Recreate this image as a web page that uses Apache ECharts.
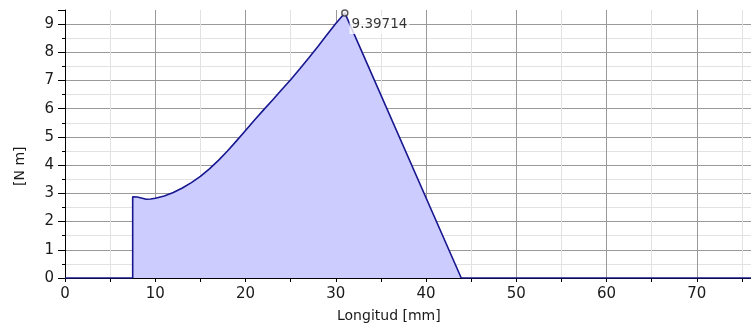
<!DOCTYPE html>
<html>
<head>
<meta charset="utf-8">
<script src="https://cdn.jsdelivr.net/npm/echarts@6/dist/echarts.min.js"></script>
<style>html,body{margin:0;padding:0;background:#fff;}#c{width:751px;height:330px;}</style>
</head>
<body>
<div id="c"></div>
<script>
// Data
var xValues = [0, 7.5, 7.5, 8.0, 8.2, 9.0, 9.5, 10, 11, 12, 13, 14, 15, 16, 17, 18, 19, 20, 21, 22, 23, 24, 25, 26, 27, 28, 29, 30, 31, 43.9, 76];
var yValues = [0, 0, 2.88, 2.87, 2.8, 2.79, 2.8, 2.83, 2.91, 3.03, 3.19, 3.38, 3.6, 3.87, 4.17, 4.5, 4.86, 5.23, 5.6, 5.96, 6.31, 6.67, 7.03, 7.41, 7.8, 8.2, 8.61, 9.02, 9.39714, 0, 0];
var peakX = 31;
var peakY = 9.39714;
var xAxisTitle = 'Longitud [mm]';
var yAxisTitle = '[N m]';

var lineData = xValues.map(function (x, i) { return [x, yValues[i]]; });

var chart = echarts.init(document.getElementById('c'), null, {renderer: 'canvas'});
var FONT = 'DejaVu Sans';
var MAJOR = '#999999', MINOR = '#e2e2e2';
chart.setOption({
  animation: false,
  backgroundColor: '#fff',
  grid: {left: 65, right: 0, top: 10, bottom: 52, containLabel: false},
  xAxis: {
    type: 'value', min: 0, max: 76, interval: 5,
    axisLine: {show: true, lineStyle: {color: '#000', width: 1}},
    axisTick: {show: true, length: 4, lineStyle: {color: '#000'}},
    axisLabel: {
      color: '#1a1a1a', fontFamily: FONT, fontSize: 15, margin: 9, showMaxLabel: false,
      formatter: function (v) { return v % 10 === 0 ? String(v) : ''; }
    },
    splitLine: {show: true, showMaxLine: false, lineStyle: {color: [MAJOR, MINOR], width: 1}}
  },
  yAxis: [{
    type: 'value', min: 0, max: 9.5, interval: 0.5,
    axisLine: {show: true, lineStyle: {color: '#000', width: 1}},
    axisTick: {show: true, length: 3, lineStyle: {color: '#000'}},
    axisLabel: {
      color: '#1a1a1a', fontFamily: FONT, fontSize: 15, margin: 11,
      formatter: function (v) { return Math.abs(v - Math.round(v)) < 1e-9 ? String(Math.round(v)) : ''; }
    },
    splitLine: {show: true, showMaxLine: false, lineStyle: {color: [MAJOR, MINOR], width: 1}}
  }, {
    type: 'value', min: 0, max: 9.5, interval: 1, position: 'left',
    axisLine: {show: false},
    axisTick: {show: true, length: 7, lineStyle: {color: '#000'}},
    axisLabel: {show: false},
    splitLine: {show: false}
  }],
  series: [{
    type: 'line',
    data: lineData,
    symbol: 'none',
    lineStyle: {color: '#17178f', width: 1.6},
    areaStyle: {color: '#ccccff', opacity: 1},
    z: 2
  }, {
    type: 'scatter',
    data: [[peakX, peakY]],
    symbol: 'circle',
    symbolSize: 6,
    itemStyle: {color: '#fff', borderColor: '#333', borderWidth: 1.5},
    label: {
      show: true, position: 'right', offset: [-4, 12],
      formatter: function (p) { return String(p.value[1]); },
      color: '#000', fontFamily: FONT, fontSize: 13.5,
      backgroundColor: '#fff', padding: [2, 2, 2, 2]
    },
    z: 3
  }],
  graphic: [{
    type: 'text', left: 337, top: 309,
    style: {text: xAxisTitle, fill: '#1a1a1a', font: '14px "DejaVu Sans"'}
  }, {
    type: 'text', x: 13, y: 186, rotation: Math.PI / 2,
    style: {text: yAxisTitle, fill: '#1a1a1a', font: '14px "DejaVu Sans"'}
  }]
});
</script>
</body>
</html>
